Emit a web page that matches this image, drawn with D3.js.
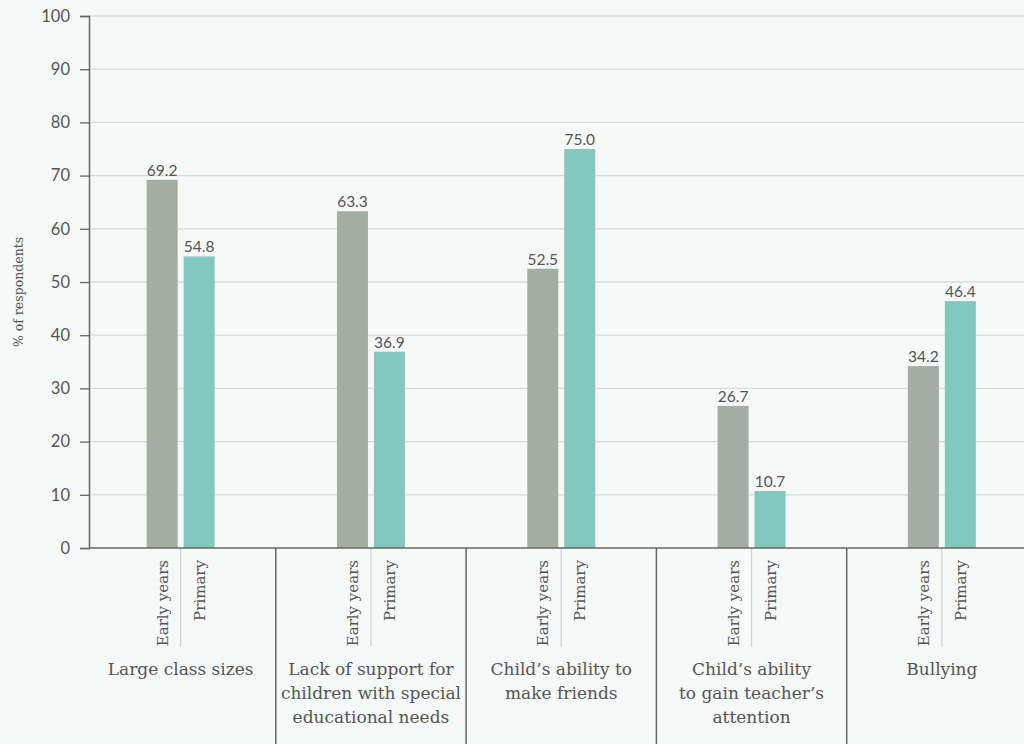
<!DOCTYPE html>
<html>
<head>
<meta charset="utf-8">
<script src="https://cdn.jsdelivr.net/npm/d3@7"></script>
<style>
    html, body { margin: 0; padding: 0; background: #f5f9f8; }
    svg { display: block; }
    .grid line { stroke: #d6dbda; stroke-width: 1.3px; }
    .tick-label { font-family: Lato, sans-serif; font-size: 16.5px; fill: #555; }
    .val { font-family: Lato, sans-serif; font-size: 15.5px; fill: #555; text-anchor: middle; }
    .sub { font-family: "DejaVu Serif", serif; font-size: 15px; fill: #555; }
    .cat { font-family: "DejaVu Serif", serif; font-size: 17px; fill: #555; text-anchor: middle; }
    .ytitle { font-family: "DejaVu Serif", serif; font-size: 12.5px; fill: #555; text-anchor: middle; }
</style>
</head>
<body>
<div id="chart"></div>
<script>
// Chart data
const categories = [
    ["Large class sizes"],
    ["Lack of support for", "children with special", "educational needs"],
    ["Child\u2019s ability to", "make friends"],
    ["Child\u2019s ability", "to gain teacher\u2019s", "attention"],
    ["Bullying"]
];
const series = ["Early years", "Primary"];
const earlyYears = [69.2, 63.3, 52.5, 26.7, 34.2];
const primary = [54.8, 36.9, 75.0, 10.7, 46.4];
const yTicks = [0, 10, 20, 30, 40, 50, 60, 70, 80, 90, 100];
const colors = ["#a5aea2", "#82c8bc"];

const W = 1024, H = 744;
const plotLeft = 89, plotTop = 16, plotBottom = 548;
const bandStart = 85.5, bandEnd = 1037;

const svg = d3.select("#chart").append("svg")
    .attr("width", W)
    .attr("height", H);

const catIds = categories.map((c, i) => i);
const x0 = d3.scaleBand().domain(catIds).range([bandStart, bandEnd]).padding(0);
const x1 = d3.scaleBand().domain(series).range([-34, 34]).paddingInner(6 / 37).paddingOuter(0);
const y = d3.scaleLinear().domain([0, 100]).range([plotBottom, plotTop]);

// Gridlines
svg.append("g").attr("class", "grid")
    .selectAll("line")
    .data(yTicks.filter(t => t > 0))
    .join("line")
    .attr("x1", plotLeft).attr("x2", W)
    .attr("y1", d => y(d)).attr("y2", d => y(d));

// Y axis
const yAxis = svg.append("g")
    .attr("transform", `translate(${plotLeft},0)`)
    .call(d3.axisLeft(y).tickValues(yTicks).tickSize(9).tickPadding(10));
yAxis.attr("font-family", null).attr("font-size", null);
yAxis.select(".domain").attr("stroke", "#666").attr("stroke-width", 1.5);
yAxis.selectAll(".tick line").attr("stroke", "#666").attr("stroke-width", 1.3);
yAxis.selectAll(".tick text").attr("class", "tick-label").attr("fill", null);

svg.append("text")
    .attr("class", "ytitle")
    .attr("transform", `translate(23,${(plotTop + plotBottom) / 2 + 10}) rotate(-90)`)
    .text("% of respondents");

// Bars
const rows = catIds.map(i => ({ i, vals: [earlyYears[i], primary[i]] }));
const groups = svg.selectAll(".grp")
    .data(rows)
    .join("g")
    .attr("class", "grp")
    .attr("transform", d => `translate(${x0(d.i) + x0.bandwidth() / 2},0)`);

groups.selectAll("rect")
    .data(d => d.vals.map((v, k) => ({ s: series[k], v, k })))
    .join("rect")
    .attr("x", d => x1(d.s))
    .attr("width", x1.bandwidth())
    .attr("y", d => y(d.v))
    .attr("height", d => y(0) - y(d.v))
    .attr("fill", d => colors[d.k]);

groups.selectAll(".val")
    .data(d => d.vals.map((v, k) => ({ s: series[k], v })))
    .join("text")
    .attr("class", "val")
    .attr("x", d => x1(d.s) + x1.bandwidth() / 2)
    .attr("y", d => y(d.v) - 4)
    .text(d => d.v.toFixed(1));

// Sub labels (rotated series names)
groups.selectAll(".sub")
    .data(series)
    .join("text")
    .attr("class", "sub")
    .attr("text-anchor", "end")
    .attr("transform", d => `translate(${x1(d) + x1.bandwidth() / 2 + 5.5},560) rotate(-90)`)
    .text(d => d);

// Divider between series labels
groups.append("line")
    .attr("x1", 0).attr("x2", 0)
    .attr("y1", plotBottom).attr("y2", 647)
    .attr("stroke", "#d0d4d3").attr("stroke-width", 1.3);

// Category labels
groups.append("text")
    .attr("class", "cat")
    .each(function (d) {
        d3.select(this).selectAll("tspan")
            .data(categories[d.i])
            .join("tspan")
            .attr("x", 0)
            .attr("y", (t, j) => 675 + j * 24)
            .text(t => t);
    });

// Category separators
svg.append("g")
    .selectAll("line")
    .data(catIds.slice(1))
    .join("line")
    .attr("x1", d => x0(d)).attr("x2", d => x0(d))
    .attr("y1", plotBottom).attr("y2", H)
    .attr("stroke", "#666").attr("stroke-width", 1.5);

// X baseline
svg.append("line")
    .attr("x1", plotLeft).attr("x2", W)
    .attr("y1", plotBottom).attr("y2", plotBottom)
    .attr("stroke", "#666").attr("stroke-width", 1.5);
</script>
</body>
</html>
